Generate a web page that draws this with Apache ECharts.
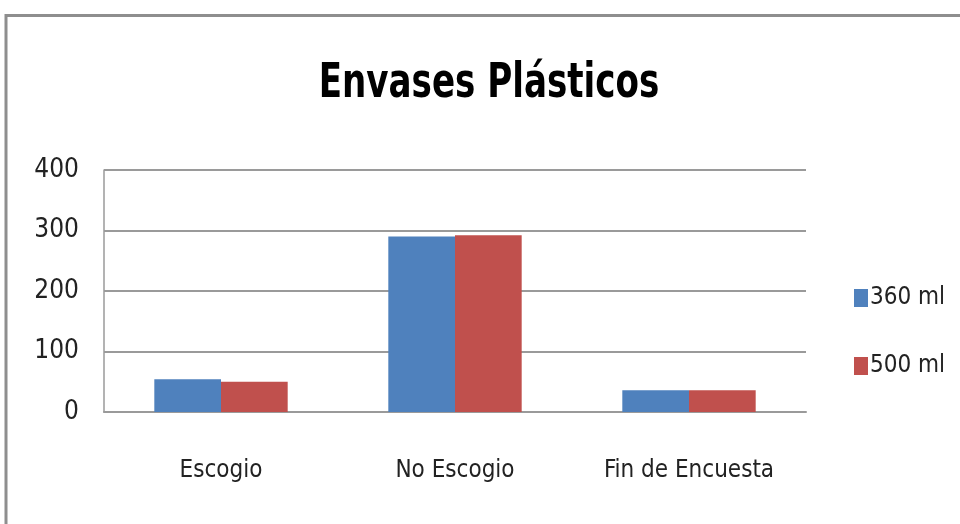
<!DOCTYPE html>
<html>
<head>
<meta charset="utf-8">
<script src="https://cdn.jsdelivr.net/npm/echarts@6/dist/echarts.min.js"></script>
<style>
html,body{margin:0;padding:0;background:#fff;}
#c{width:960px;height:524px;}
</style>
</head>
<body>
<div id="c"></div>
<script>
const categories = ['Escogio', 'No Escogio', 'Fin de Encuesta'];
const seriesNames = ['360 ml', '500 ml'];
const values360 = [54, 290, 36];
const values500 = [50, 292, 36];
const yTicks = { min: 0, max: 400, interval: 100 };
const titleText = 'Envases Plásticos';

const FONT = "'Liberation Sans Narrow', 'DejaVu Sans Condensed', 'Arial Narrow', sans-serif";
const chart = echarts.init(document.getElementById('c'), null, { renderer: 'canvas' });
chart.setOption({
  animation: false,
  backgroundColor: '#ffffff',
  graphic: [{
    type: 'rect',
    shape: { x: 6, y: 15.5, width: 1000, height: 600 },
    style: { fill: 'none', stroke: '#8e8e8e', lineWidth: 3 },
    silent: true
  }, {
    type: 'text',
    x: 489,
    y: 85,
    scaleX: 0.79,
    style: {
      text: titleText,
      fontFamily: FONT,
      fontSize: 48,
      fontWeight: 'bold',
      fill: '#000',
      align: 'center',
      verticalAlign: 'middle'
    },
    silent: true
  }],
  legend: {
    orient: 'vertical',
    left: 849,
    top: 281,
    itemWidth: 14,
    itemHeight: 18,
    itemGap: 44,
    icon: 'rect',
    textStyle: { fontFamily: FONT, fontSize: 24, lineHeight: 20, color: '#222', padding: [0, 0, 0, -3] },
    data: seriesNames
  },
  grid: { left: 104, right: 154, top: 170, bottom: 112, containLabel: false },
  xAxis: {
    type: 'category',
    data: categories,
    axisLine: { lineStyle: { color: '#9a9a9a', width: 2 } },
    axisTick: { show: false },
    axisLabel: { fontFamily: FONT, fontSize: 24, color: '#222', margin: 47, interval: 0 }
  },
  yAxis: {
    type: 'value',
    min: yTicks.min,
    max: yTicks.max,
    interval: yTicks.interval,
    axisLine: { show: true, lineStyle: { color: '#9a9a9a', width: 1.5 } },
    axisTick: { show: false },
    splitLine: { lineStyle: { color: '#9a9a9a', width: 2 } },
    axisLabel: { fontFamily: FONT, fontSize: 26, color: '#222', margin: 25 }
  },
  series: [
    { name: seriesNames[0], type: 'bar', data: values360, barGap: '0%', barCategoryGap: '43%', itemStyle: { color: '#4f81bd' } },
    { name: seriesNames[1], type: 'bar', data: values500, barGap: '0%', barCategoryGap: '43%', itemStyle: { color: '#c0504d' } }
  ]
});
</script>
</body>
</html>
